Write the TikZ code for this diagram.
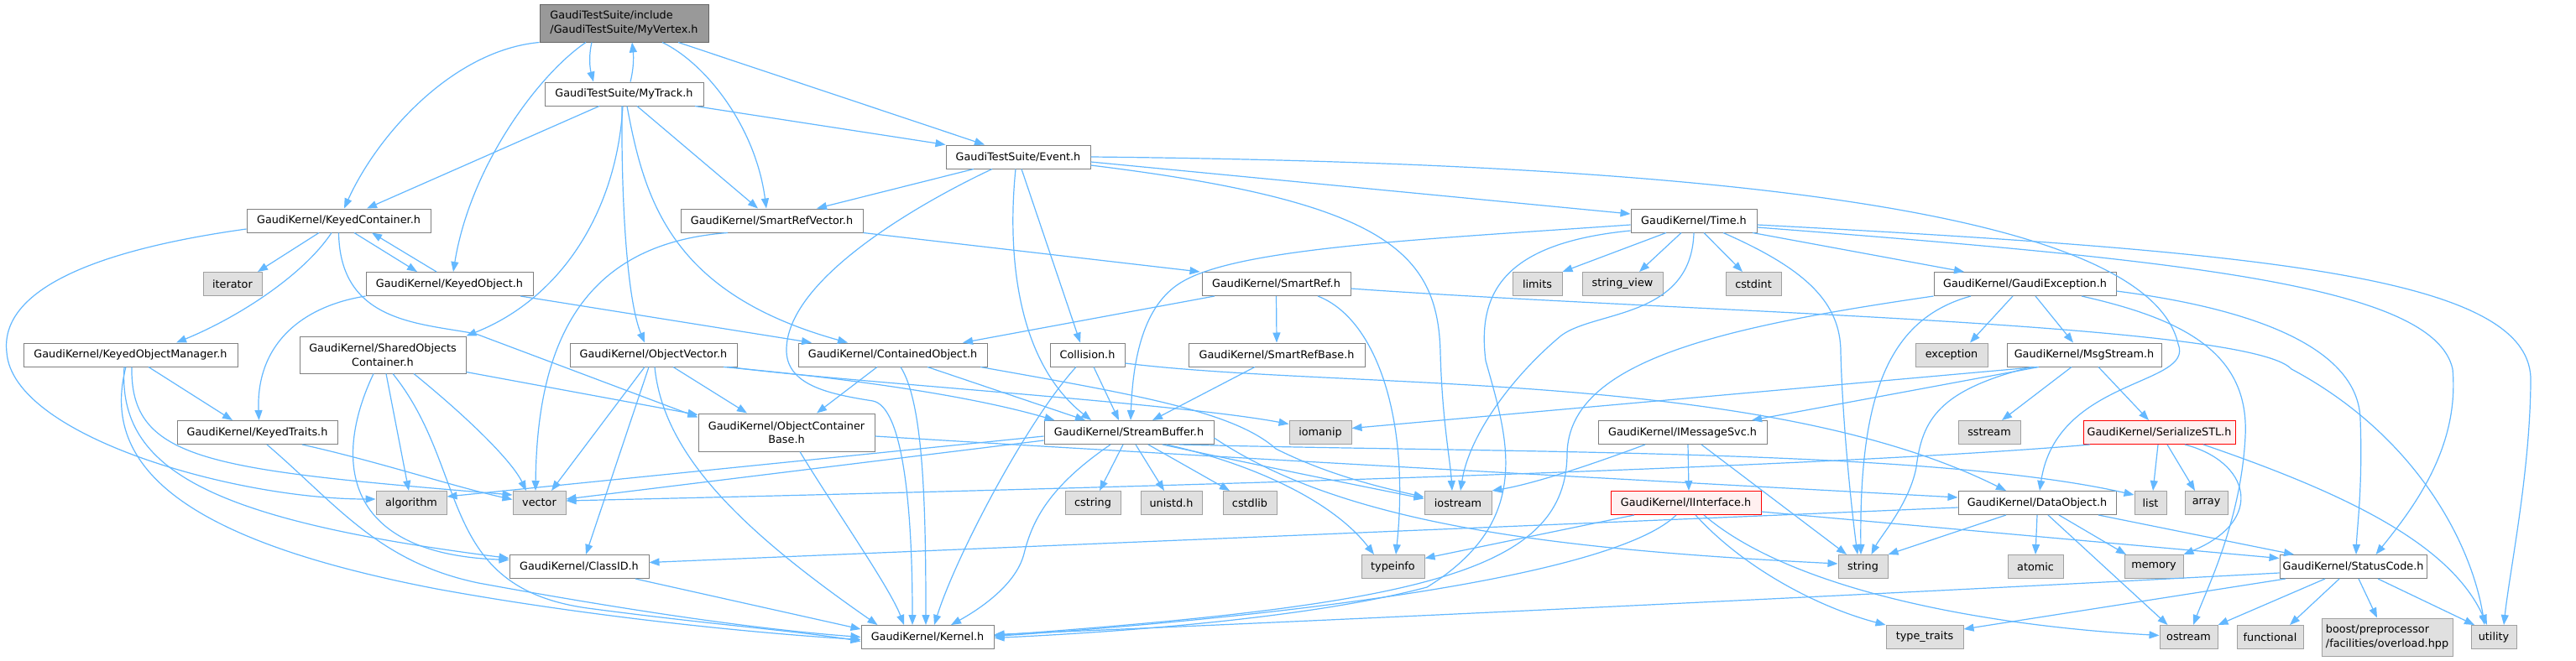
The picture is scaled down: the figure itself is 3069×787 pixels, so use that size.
\documentclass[tikz,border=0pt]{standalone}
\usepackage{fontspec}
\usetikzlibrary{arrows.meta}
\newfontfamily\dvs{DejaVu Sans}
\definecolor{ecol}{HTML}{63B8FF}
\definecolor{ndraw}{HTML}{808080}
\definecolor{sdraw}{HTML}{A0A0A0}
\definecolor{sfill}{HTML}{E0E0E0}
\definecolor{tfill}{HTML}{999999}
\definecolor{tdraw}{HTML}{666666}
\definecolor{rfill}{HTML}{FFF0F0}
\definecolor{rdraw}{HTML}{FF0000}
\tikzset{
  nd/.style={rectangle, draw=ndraw, fill=white, line width=1pt, inner sep=0pt, minimum height=28pt, font={\dvs\fontsize{12.8}{16.5}\selectfont}},
  sys/.style={nd, draw=sdraw, fill=sfill},
  topn/.style={nd, draw=tdraw, fill=tfill},
  redn/.style={nd, draw=rdraw, fill=rfill},
  e/.style={draw=ecol, line width=1.2pt, -{Triangle[length=12pt,width=9pt]}}
}
\begin{document}
\begin{tikzpicture}[x=1pt,y=-1pt]
\fill[white] (0,0) rectangle (3069,787);
\useasboundingbox (0,0) rectangle (3069,787);
% nodes
\node[topn, minimum width=201pt, minimum height=45pt, align=left] (mv) at (743.5,27.5) {GaudiTestSuite/include\\/GaudiTestSuite/MyVertex.h};
\node[nd, minimum width=189pt] (mt) at (743.5,112) {GaudiTestSuite/MyTrack.h};
\node[nd, minimum width=172pt] (ev) at (1213,187) {GaudiTestSuite/Event.h};
\node[nd, minimum width=219pt] (kc) at (403.5,263) {GaudiKernel/KeyedContainer.h};
\node[nd, minimum width=217pt] (srv) at (919.5,263) {GaudiKernel/SmartRefVector.h};
\node[nd, minimum width=150pt] (tm) at (2018,263) {GaudiKernel/Time.h};
\node[sys, minimum width=70pt] (it) at (277,338.5) {iterator};
\node[nd, minimum width=199pt] (ko) at (535.5,338.5) {GaudiKernel/KeyedObject.h};
\node[nd, minimum width=177pt] (sr) at (1520.5,338.5) {GaudiKernel/SmartRef.h};
\node[sys, minimum width=59pt] (lim) at (1831.5,338.5) {limits};
\node[sys, minimum width=96pt] (sv) at (1933,338.5) {string\_view};
\node[sys, minimum width=66pt] (cdi) at (2089,338.5) {cstdint};
\node[nd, minimum width=217pt] (ge) at (2412.5,338.5) {GaudiKernel/GaudiException.h};
\node[nd, minimum width=255pt] (kom) at (155.5,423) {GaudiKernel/KeyedObjectManager.h};
\node[nd, minimum width=198pt, minimum height=44pt, align=center] (soc) at (456,423) {GaudiKernel/SharedObjects\\Container.h};
\node[nd, minimum width=199pt] (ov) at (778.5,423) {GaudiKernel/ObjectVector.h};
\node[nd, minimum width=225pt] (co) at (1063.5,423) {GaudiKernel/ContainedObject.h};
\node[nd, minimum width=89pt] (col) at (1295.5,423) {Collision.h};
\node[nd, minimum width=210pt] (srb) at (1521,423) {GaudiKernel/SmartRefBase.h};
\node[sys, minimum width=86pt] (exc) at (2325,423) {exception};
\node[nd, minimum width=184pt] (ms) at (2483,423) {GaudiKernel/MsgStream.h};
\node[nd, minimum width=191pt] (kt) at (306.5,515.5) {GaudiKernel/KeyedTraits.h};
\node[nd, minimum width=210pt, minimum height=45pt, align=center] (ocb) at (937,515.5) {GaudiKernel/ObjectContainer\\Base.h};
\node[nd, minimum width=202pt] (sb) at (1345,515.5) {GaudiKernel/StreamBuffer.h};
\node[sys, minimum width=74pt] (iom) at (1573,515.5) {iomanip};
\node[nd, minimum width=201pt] (ims) at (2004.5,515.5) {GaudiKernel/IMessageSvc.h};
\node[sys, minimum width=74pt] (ss) at (2370,515.5) {sstream};
\node[redn, minimum width=181pt] (sstl) at (2572.5,515.5) {GaudiKernel/SerializeSTL.h};
\node[sys, minimum width=84pt] (alg) at (490,599.5) {algorithm};
\node[sys, minimum width=63pt] (vec) at (642.5,599.5) {vector};
\node[sys, minimum width=66pt] (cstr) at (1302,599.5) {cstring};
\node[sys, minimum width=73pt] (uni) at (1395.5,599.5) {unistd.h};
\node[sys, minimum width=64pt] (cstl) at (1489,599.5) {cstdlib};
\node[sys, minimum width=80pt] (ios) at (1737,599.5) {iostream};
\node[redn, minimum width=179pt] (ii) at (2008.5,599.5) {GaudiKernel/IInterface.h};
\node[nd, minimum width=188pt] (dob) at (2427,599.5) {GaudiKernel/DataObject.h};
\node[sys, minimum width=38pt] (lst) at (2562,599.5) {list};
\node[sys, minimum width=51pt] (arr) at (2628.5,599.5) {array};
\node[nd, minimum width=166pt] (cid) at (690,675.5) {GaudiKernel/ClassID.h};
\node[sys, minimum width=75pt] (ti) at (1659.5,675.5) {typeinfo};
\node[sys, minimum width=59pt] (str) at (2219.5,675.5) {string};
\node[sys, minimum width=66pt] (atm) at (2425,675.5) {atomic};
\node[sys, minimum width=70pt] (mem) at (2566,675.5) {memory};
\node[nd, minimum width=175pt] (sc) at (2803.5,675.5) {GaudiKernel/StatusCode.h};
\node[nd, minimum width=158pt] (ker) at (1105,759.5) {GaudiKernel/Kernel.h};
\node[sys, minimum width=92pt] (tt) at (2293,759.5) {type\_traits};
\node[sys, minimum width=69pt] (os) at (2607.5,759.5) {ostream};
\node[sys, minimum width=79pt] (fn) at (2704.5,759.5) {functional};
\node[sys, minimum width=156pt, minimum height=45pt, align=left] (bst) at (2844,759.5) {boost/preprocessor\\/facilities/overload.hpp};
\node[sys, minimum width=54pt] (ut) at (2971,759.5) {utility};
% edges: MyVertex
\draw[e] ([xshift=-38.5pt]mv.south) .. controls (701,68) and (703,82) .. ([xshift=-36.5pt]mt.north);
\draw[e] ([xshift=7.5pt]mt.north) .. controls (755,82) and (755,68) .. ([xshift=9.5pt]mv.south);
\draw[e] (mv.south west) .. controls (540,60) and (450,160) .. ([xshift=6.5pt]kc.north);
\draw[e] ([xshift=-45.5pt]mv.south) .. controls (640,90) and (560,200) .. ([xshift=4.5pt]ko.north);
\draw[e] ([xshift=45.5pt]mv.south) .. controls (840,75) and (900,150) .. ([xshift=-6.5pt]srv.north);
\draw[e] ([xshift=64.5pt]mv.south) -- ([xshift=-40pt]ev.north);
% MyTrack
\draw[e] ([xshift=-29.5pt]mt.south) -- ([xshift=33.5pt]kc.north);
\draw[e] ([xshift=-1.5pt]mt.south) .. controls (735,250) and (670,355) .. (soc.north east);
\draw[e] ([xshift=-2.5pt]mt.south) .. controls (740,250) and (748,360) .. ([xshift=-10.5pt]ov.north);
\draw[e] ([xshift=3.5pt]mt.south) .. controls (768,240) and (800,350) .. ([xshift=-53.5pt]co.north);
\draw[e] ([xshift=15.5pt]mt.south) -- ([xshift=-16.5pt]srv.north);
\draw[e] ([xshift=84.5pt]mt.south) -- (ev.north west);
% Event
\draw[e] ([xshift=-53pt]ev.south) -- ([xshift=53.5pt]srv.north);
\draw[e] ([xshift=-31pt]ev.south) .. controls (1100,240) and (940,330) .. (937,415) .. controls (935,460) and (990,470) .. (1040,478) .. controls (1075,485) and (1087,600) .. ([xshift=-18pt]ker.north);
\draw[e] ([xshift=-3pt]ev.south) .. controls (1200,300) and (1210,430) .. ([xshift=-45pt]sb.north);
\draw[e] ([xshift=4pt]ev.south) -- ([xshift=-8.5pt]col.north);
\draw[e] ([yshift=-10pt]ev.east) .. controls (1650,240) and (1713,300) .. (1716,420) .. controls (1718,500) and (1728,550) .. ([xshift=-7pt]ios.north);
\draw[e] ([yshift=-6pt]ev.east) -- ([yshift=8pt]tm.west);
\draw[e] (ev.east) .. controls (2100,195) and (2560,260) .. (2595,410) .. controls (2615,460) and (2450,450) .. ([xshift=3pt]dob.north);
% KeyedContainer
\draw[e] ([yshift=-10pt]kc.west) .. controls (100,300) and (0,350) .. (8,420) .. controls (15,520) and (280,595) .. ([yshift=4.5pt]alg.west);
\draw[e] ([xshift=-23.5pt]kc.south) -- ([xshift=30pt]it.north);
\draw[e] ([xshift=-8.5pt]kc.south) .. controls (360,330) and (280,380) .. ([xshift=54.5pt]kom.north);
\draw[e] (kc.south) .. controls (405,385) and (500,385) .. (567,398) -- ([yshift=-5pt]ocb.north west);
\draw[e] ([xshift=18.5pt]kc.south) -- ([xshift=-38.5pt]ko.north);
% KeyedObject
\draw[e] ([xshift=-15.5pt]ko.north) -- ([xshift=39.5pt]kc.south);
\draw[e] (ko.south west) .. controls (360,365) and (305,410) .. ([xshift=2pt]kt.north);
\draw[e] ([xshift=84.5pt]ko.south) -- ([xshift=-96.5pt]co.north);
% SmartRefVector, SmartRef
\draw[e] ([xshift=-52.5pt]srv.south) .. controls (700,290) and (640,400) .. ([xshift=-4.5pt]vec.north);
\draw[e] (srv.south east) -- ([xshift=-2pt]sr.north west);
\draw[e] ([xshift=-73.5pt]sr.south) -- ([xshift=83.5pt]co.north);
\draw[e] (sr.south) -- (srb.north);
\draw[e] ([xshift=49.5pt]sr.south) .. controls (1640,380) and (1680,500) .. ([xshift=3.5pt]ti.north);
\draw[e] ([yshift=-5.5pt]sr.east) .. controls (2000,372) and (2680,385) .. (2730,440) .. controls (2880,520) and (2945,650) .. ([xshift=-11pt]ut.north);
\draw[e] ([xshift=-26pt]srb.south) -- ([xshift=28pt]sb.north);
% Time
\draw[e] ([xshift=-33pt]tm.south) -- (lim.north east);
\draw[e] ([xshift=-15pt]tm.south) -- ([xshift=20pt]sv.north);
\draw[e] ([xshift=12pt]tm.south) -- ([xshift=-13pt]cdi.north);
\draw[e] ([xshift=70pt]tm.south) -- ([xshift=-72.5pt]ge.north);
\draw[e] ([yshift=-5pt]tm.west) .. controls (1700,285) and (1480,295) .. (1410,335) .. controls (1365,360) and (1350,420) .. ([xshift=2pt]sb.north);
\draw[e] ([yshift=-12pt]tm.west) .. controls (1790,290) and (1760,350) .. (1770,430) .. controls (1795,520) and (1830,620) .. (1700,700) .. controls (1550,740) and (1300,755) .. ([yshift=-1pt]ker.east);
\draw[e] (tm.south) .. controls (2015,380) and (1900,370) .. (1860,400) .. controls (1800,450) and (1750,520) .. ([xshift=3pt]ios.north);
\draw[e] ([xshift=35pt]tm.south) .. controls (2150,320) and (2193,360) .. (2193,420) .. controls (2195,500) and (2205,600) .. ([xshift=-6.5pt]str.north);
\draw[e] ([yshift=-5pt]tm.east) .. controls (2700,300) and (3010,330) .. (3015,450) .. controls (3015,560) and (2990,680) .. ([xshift=12pt]ut.north);
\draw[e] ([yshift=-8pt]tm.east) .. controls (2600,310) and (2900,340) .. (2922,440) .. controls (2930,530) and (2880,600) .. ([xshift=27pt]sc.north);
% GaudiException
\draw[e] (ge.south west) .. controls (2050,390) and (1870,430) .. (1867,540) .. controls (1867,680) and (1700,720) .. ([yshift=2pt]ker.east);
\draw[e] ([xshift=-64.5pt]ge.south) .. controls (2250,380) and (2215,470) .. ([xshift=-2.5pt]str.north);
\draw[e] ([xshift=-14.5pt]ge.south) -- ([xshift=22pt]exc.north);
\draw[e] ([xshift=12.5pt]ge.south) -- ([xshift=-13pt]ms.north);
\draw[e] ([xshift=67.5pt]ge.south) .. controls (2600,380) and (2680,420) .. (2675,520) .. controls (2670,620) and (2630,700) .. ([xshift=5.5pt]os.north);
\draw[e] ([yshift=-8.5pt]ge.east) .. controls (2700,370) and (2810,420) .. (2812,500) .. controls (2815,580) and (2808,630) .. ([xshift=3.5pt]sc.north);
% MsgStream
\draw[e] ([xshift=-56pt]ms.south) -- ([yshift=5pt]iom.east);
\draw[e] ([xshift=-54pt]ms.south) -- ([xshift=82.5pt]ims.north);
\draw[e] ([xshift=-63pt]ms.south) .. controls (2310,465) and (2290,500) .. (2283,557) .. controls (2275,600) and (2240,640) .. ([xshift=10pt]str.north);
\draw[e] ([xshift=-15pt]ms.south) -- ([xshift=15pt]ss.north);
\draw[e] ([xshift=17pt]ms.south) -- ([xshift=-12.5pt]sstl.north);
% IMessageSvc
\draw[e] ([xshift=-44.5pt]ims.south) .. controls (1880,560) and (1820,578) .. (ios.north east);
\draw[e] ([xshift=6.5pt]ims.south) -- ([xshift=3.5pt]ii.north);
\draw[e] ([xshift=22.5pt]ims.south) -- ([xshift=-19.5pt]str.north);
% IInterface
\draw[e] ([xshift=-61.5pt]ii.south) -- ([yshift=10pt]ti.east);
\draw[e] ([xshift=-11.5pt]ii.south) .. controls (1930,680) and (1600,730) .. ([yshift=1pt]ker.east);
\draw[e] ([xshift=11.5pt]ii.south) .. controls (2080,680) and (2170,725) .. (tt.north west);
\draw[e] ([xshift=21.5pt]ii.south) .. controls (2130,700) and (2350,745) .. ([yshift=2pt]os.west);
\draw[e] ([yshift=-10.5pt]ii.east) -- ([yshift=10pt]sc.west);
% DataObject
\draw[e] ([yshift=-5.5pt]dob.west) .. controls (2100,615) and (1500,640) .. ([yshift=5pt]cid.east);
\draw[e] ([xshift=-37pt]dob.south) -- (str.north east);
\draw[e] (dob.south) -- (atm.north);
\draw[e] ([xshift=26pt]dob.south) -- ([xshift=-33pt]mem.north);
\draw[e] ([xshift=13pt]dob.south) -- ([xshift=-25pt]os.north);
\draw[e] ([xshift=73pt]dob.south) -- ([xshift=-70.5pt]sc.north);
% SerializeSTL
\draw[e] ([xshift=-82.5pt]sstl.south) .. controls (2200,555) and (1500,578) .. ([yshift=2.5pt]vec.east);
\draw[e] ([xshift=-1.5pt]sstl.south) -- ([xshift=3pt]lst.north);
\draw[e] ([xshift=9.5pt]sstl.south) -- ([xshift=-13.5pt]arr.north);
\draw[e] ([xshift=30.5pt]sstl.south) .. controls (2680,550) and (2700,620) .. (mem.north east);
\draw[e] ([xshift=52.5pt]sstl.south) .. controls (2800,590) and (2920,650) .. ([xshift=-8pt]ut.north);
% StatusCode
\draw[e] ([yshift=-7.5pt]sc.west) .. controls (2400,700) and (1700,735) .. ([yshift=3pt]ker.east);
\draw[e] ([xshift=-80.5pt]sc.south) -- ([yshift=9.5pt]tt.east);
\draw[e] ([xshift=-33.5pt]sc.south) -- (os.north east);
\draw[e] ([xshift=-16.5pt]sc.south) -- ([xshift=23.5pt]fn.north);
\draw[e] ([xshift=6.5pt]sc.south) -- ([xshift=-12pt]bst.north);
\draw[e] ([xshift=29.5pt]sc.south) -- ([xshift=-23pt]ut.north);
% StreamBuffer
\draw[e] ([yshift=-4.5pt]sb.west) -- ([yshift=7.5pt]alg.east);
\draw[e] ([yshift=-9.5pt]sb.west) -- ([yshift=4.5pt]vec.east);
\draw[e] ([xshift=-22pt]sb.south) .. controls (1250,580) and (1230,620) .. (1220,660) .. controls (1210,700) and (1160,730) .. ([xshift=28pt]ker.north);
\draw[e] ([xshift=-7pt]sb.south) -- ([xshift=8pt]cstr.north);
\draw[e] ([xshift=8pt]sb.south) -- ([xshift=-8.5pt]uni.north);
\draw[e] ([xshift=23pt]sb.south) -- ([xshift=-24pt]cstl.north);
\draw[e] ([xshift=40pt]sb.south) .. controls (1500,555) and (1600,575) .. ([yshift=5pt]ios.west);
\draw[e] ([xshift=60pt]sb.south) .. controls (1800,540) and (2300,535) .. ([yshift=9.5pt]lst.west);
\draw[e] ([xshift=45pt]sb.south) .. controls (1500,555) and (1590,600) .. ([xshift=-22.5pt]ti.north);
\draw[e] ([yshift=-6.5pt]sb.east) .. controls (1600,625) and (1850,655) .. ([yshift=3.5pt]str.west);
% ContainedObject
\draw[e] ([xshift=-18.5pt]co.south) -- ([xshift=36pt]ocb.north);
\draw[e] ([xshift=9.5pt]co.south) .. controls (1100,480) and (1103,600) .. ([xshift=-2pt]ker.north);
\draw[e] ([xshift=41.5pt]co.south) -- ([xshift=-52pt]sb.north);
\draw[e] ([xshift=104.5pt]co.south) .. controls (1350,470) and (1470,490) .. (1520,535) .. controls (1580,565) and (1640,580) .. ([yshift=7pt]ios.west);
% ObjectVector
\draw[e] ([xshift=-10.5pt]ov.south) -- ([xshift=14.5pt]vec.north);
\draw[e] ([xshift=-5.5pt]ov.south) -- ([xshift=8pt]cid.north);
\draw[e] ([xshift=1.5pt]ov.south) .. controls (790,540) and (880,630) .. ([xshift=20pt]ker.north west);
\draw[e] ([xshift=23.5pt]ov.south) -- ([xshift=-47pt]ocb.north);
\draw[e] ([xshift=83.5pt]ov.south) .. controls (1000,450) and (1150,470) .. ([xshift=13pt]sb.north west);
\draw[e] ([xshift=90pt]ov.south) .. controls (1000,455) and (1400,480) .. ([yshift=10pt]iom.west);
% ObjectContainerBase
\draw[e] ([xshift=16pt]ocb.south) .. controls (990,600) and (1060,700) .. ([xshift=-28pt]ker.north);
\draw[e] ([yshift=-4.5pt]ocb.east) .. controls (1500,548) and (2000,575) .. ([yshift=6.5pt]dob.west);
% Collision
\draw[e] ([xshift=7.5pt]col.south) -- ([xshift=-12pt]sb.north);
\draw[e] ([xshift=-13.5pt]col.south) .. controls (1225,500) and (1140,660) .. ([xshift=8pt]ker.north);
\draw[e] ([yshift=-10pt]col.east) .. controls (1600,465) and (2100,440) .. ([xshift=-37pt]dob.north);
% KeyedObjectManager
\draw[e] ([xshift=21.5pt]kom.south) -- ([xshift=-29.5pt]kt.north);
\draw[e] ([xshift=1.5pt]kom.south) .. controls (155,550) and (250,560) .. ([yshift=9.5pt]vec.west);
\draw[e] ([xshift=-7.5pt]kom.south) .. controls (140,560) and (250,620) .. ([yshift=10pt]cid.west);
\draw[e] ([xshift=-5.5pt]kom.south) .. controls (115,570) and (250,650) .. (520,702) .. controls (700,735) and (900,755) .. ([yshift=-3pt]ker.west);
% KeyedTraits
\draw[e] ([xshift=53.5pt]kt.south) .. controls (450,550) and (540,580) .. ([yshift=4pt]vec.west);
\draw[e] ([xshift=11.5pt]kt.south) .. controls (400,600) and (450,670) .. (570,695) .. controls (750,728) and (900,750) .. (ker.west);
% SharedObjectsContainer
\draw[e] ([yshift=2pt]soc.south east) -- ([yshift=-2pt]ocb.north west);
\draw[e] ([xshift=-11pt]soc.south) .. controls (400,540) and (400,660) .. ([yshift=8pt]cid.west);
\draw[e] ([xshift=4pt]soc.south) -- ([xshift=-3pt]alg.north);
\draw[e] ([xshift=12pt]soc.south) .. controls (560,560) and (520,700) .. (700,725) .. controls (850,745) and (950,752) .. ([yshift=-5pt]ker.west);
\draw[e] ([xshift=37pt]soc.south) .. controls (560,500) and (610,550) .. ([xshift=-15.5pt]vec.north);
% ClassID
\draw[e] ([xshift=67pt]cid.south) -- ([yshift=9.5pt]ker.west);
\end{tikzpicture}
\end{document}
